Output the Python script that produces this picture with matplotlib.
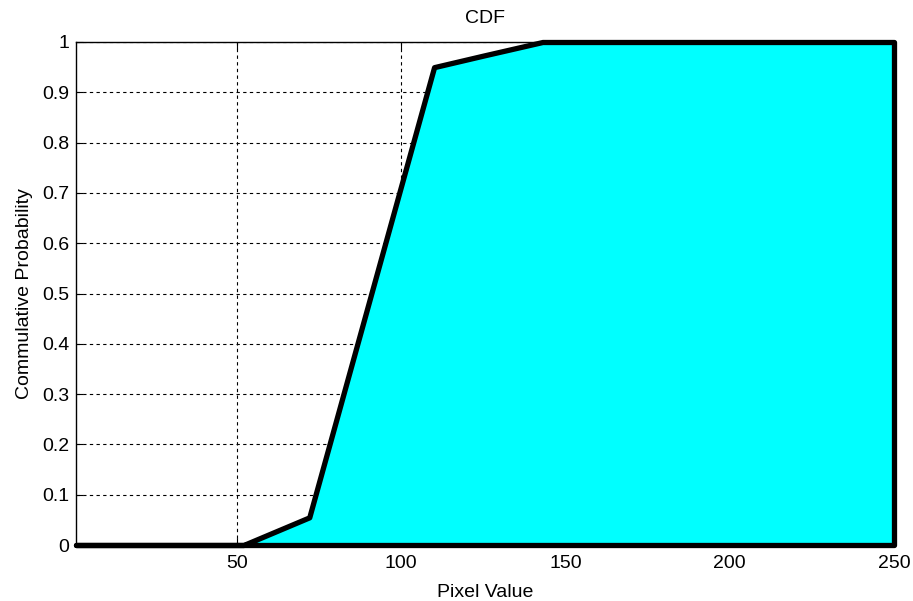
import matplotlib
matplotlib.use("Agg")
import matplotlib.pyplot as plt

pixel_values = [1, 52, 72, 110, 125, 143, 250]
cdf_values = [0.0, 0.0, 0.055, 0.95, 0.973, 1.0, 1.0]

x_ticks = [50, 100, 150, 200, 250]
y_ticks = [0, 0.1, 0.2, 0.3, 0.4, 0.5, 0.6, 0.7, 0.8, 0.9, 1]
y_ticklabels = ["0", "0.1", "0.2", "0.3", "0.4", "0.5", "0.6", "0.7", "0.8", "0.9", "1"]

plt.rcParams['font.family'] = ['Liberation Sans', 'DejaVu Sans']
fs = 14

fig = plt.figure(figsize=(9.13, 6.01), dpi=100)
ax = fig.add_axes([76 / 913, 56 / 601, (894 - 76) / 913, (545 - 42) / 601])

ax.fill_between(pixel_values, cdf_values, 0, facecolor=(0, 1, 1), edgecolor='black',
                linewidth=3.8, zorder=3, clip_on=False)

ax.set_xlim(1, 250)
ax.set_ylim(0, 1)
ax.set_xticks(x_ticks)
ax.set_yticks(y_ticks)
ax.set_yticklabels(y_ticklabels)
ax.grid(True, color='black', linestyle=(0, (3, 3)), linewidth=0.8, zorder=1)
ax.set_axisbelow(True)
ax.tick_params(direction='in', top=True, right=True, length=5, width=0.8, colors='black',
               labelsize=fs)
ax.tick_params(axis='x', pad=7)
ax.tick_params(axis='y', pad=5)
for sp in ax.spines.values():
    sp.set_linewidth(1.0)
    sp.set_zorder(2)

ax.set_title('CDF', fontsize=fs, pad=14)
ax.set_xlabel('Pixel Value', fontsize=fs, labelpad=9)
ax.set_ylabel('Commulative Probability', fontsize=fs, labelpad=6)

fig.savefig('out.png', dpi=100)
